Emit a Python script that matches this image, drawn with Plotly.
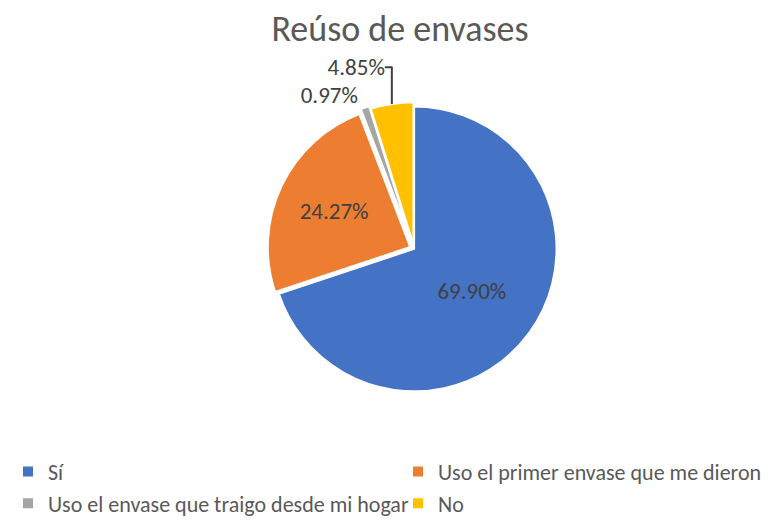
import plotly.graph_objects as go

labels = ["Sí", "Uso el primer envase que me dieron", "Uso el envase que traigo desde mi hogar", "No"]
values = [69.90, 24.27, 0.97, 4.85]
colors = ["#4472C4", "#ED7D31", "#A5A5A5", "#FFC000"]

FONT = "Carlito, Calibri, Lato, sans-serif"

fig = go.Figure(go.Pie(
    labels=labels,
    values=values,
    sort=False,
    direction="clockwise",
    rotation=0,
    marker=dict(colors=colors, line=dict(color="white", width=2)),
    pull=[0, 0.03, 0.05, 0.03],
    texttemplate="%{value:.2f}%",
    textposition=["inside", "inside", "outside", "outside"],
    textfont=dict(family=FONT, size=23, color="#404040"),
    insidetextorientation="horizontal",
    domain=dict(x=[0.306, 0.730], y=[0.252, 0.825]),
    hoverinfo="label+percent",
))

fig.update_layout(
    width=784, height=522,
    margin=dict(l=0, r=0, t=0, b=0),
    paper_bgcolor="white",
    title=dict(text="Reúso de envases", x=0.5, xanchor="center", y=0.96, yanchor="middle",
               font=dict(family=FONT, size=36, color="#595959")),
    legend=dict(orientation="h", x=0.0, xanchor="left", y=0.01, yanchor="bottom",
                entrywidth=345, entrywidthmode="pixels",
                font=dict(family=FONT, size=22, color="#595959"),
                itemwidth=30, tracegroupgap=0),
    showlegend=True,
)

fig.write_html("out.html")
